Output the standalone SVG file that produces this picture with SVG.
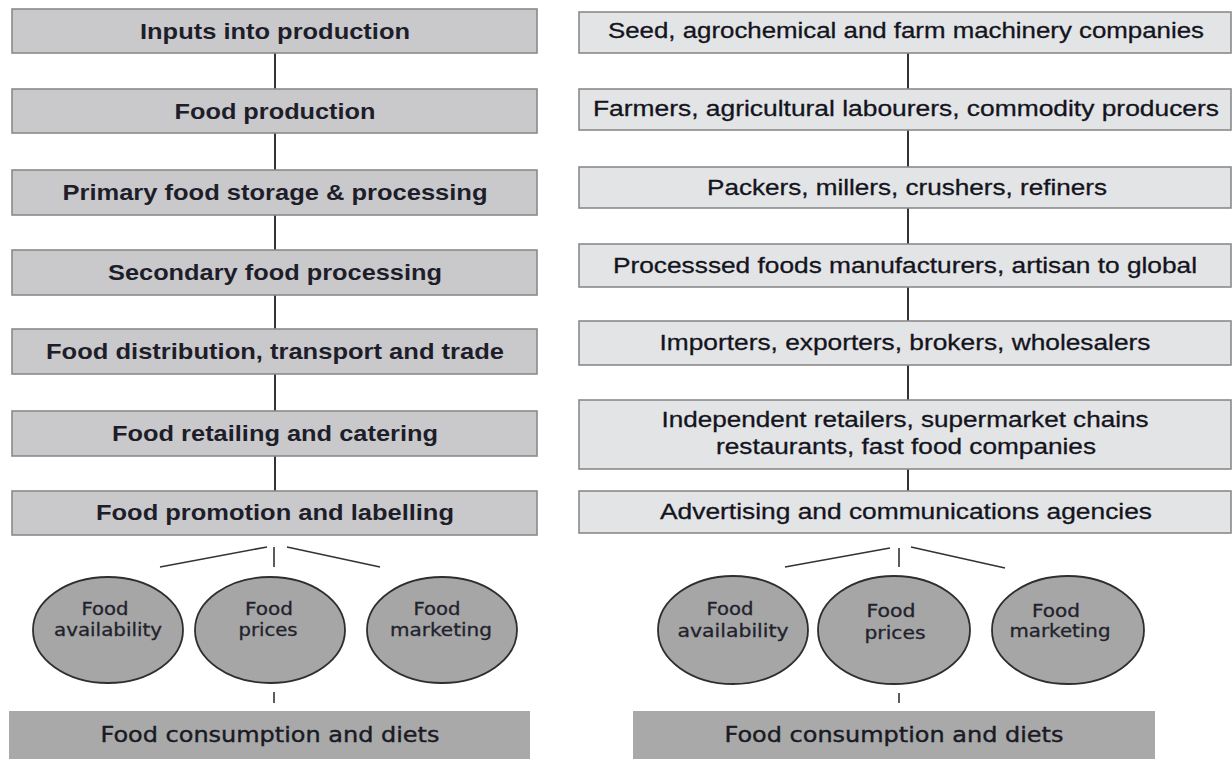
<svg xmlns="http://www.w3.org/2000/svg" width="1232" height="759" viewBox="0 0 1232 759">
<style>
.bl{fill:#c9c9cb;stroke:#8a8a8c;stroke-width:1.6}
.br{fill:#e3e4e6;stroke:#8a8a8c;stroke-width:1.6}
.bb{fill:#a9a9a9}
.el{fill:#a6a6a6;stroke:#2e2e2e;stroke-width:1.8}
.tl{font-family:"Liberation Sans",Arial,sans-serif;font-size:22px;font-weight:bold;fill:#1e1e2a;text-anchor:middle}
.tr{font-family:"Liberation Sans",Arial,sans-serif;font-size:22px;fill:#141420;stroke:#141420;stroke-width:0.3;text-anchor:middle}
.tc{font-family:"DejaVu Sans",sans-serif;font-size:17px;fill:#22222c;stroke:#22222c;stroke-width:0.3;text-anchor:middle}
.tb{font-family:"DejaVu Sans",sans-serif;font-size:21px;fill:#1a1a24;stroke:#1a1a24;stroke-width:0.4;text-anchor:middle}
.cn{stroke:#333;stroke-width:2;fill:none}
.fn{stroke:#333;stroke-width:1.6;fill:none}
</style>
<rect width="1232" height="759" fill="#ffffff"/>
<g id="connectors">
<path class="cn" d="M275 53V89M275 133V170M275 215V250M275 295V329M275 374V411M275 456V491"/>
<path class="cn" d="M908 53V89M908 130V167M908 208V244M908 287V321M908 365V400M908 469V491"/>
<path class="fn" d="M267 547L160 567M274 547V567M287 547L380 567M274 692V703"/>
<path class="fn" d="M890 548L785 567M899 548V567M911 547L1005 568M899 693V703"/>
</g>
<g id="left-1"><rect class="bl" x="12" y="9" width="525" height="44"/><text class="tl" x="275" y="39" textLength="270" lengthAdjust="spacingAndGlyphs">Inputs into production</text></g>
<g id="left-2"><rect class="bl" x="12" y="89" width="525" height="44"/><text class="tl" x="275" y="119" textLength="201" lengthAdjust="spacingAndGlyphs">Food production</text></g>
<g id="left-3"><rect class="bl" x="12" y="170" width="525" height="45"/><text class="tl" x="275" y="200" textLength="425" lengthAdjust="spacingAndGlyphs">Primary food storage &amp; processing</text></g>
<g id="left-4"><rect class="bl" x="12" y="250" width="525" height="45"/><text class="tl" x="275" y="280" textLength="334" lengthAdjust="spacingAndGlyphs">Secondary food processing</text></g>
<g id="left-5"><rect class="bl" x="12" y="329" width="525" height="45"/><text class="tl" x="275" y="359" textLength="458" lengthAdjust="spacingAndGlyphs">Food distribution, transport and trade</text></g>
<g id="left-6"><rect class="bl" x="12" y="411" width="525" height="45"/><text class="tl" x="275" y="441" textLength="326" lengthAdjust="spacingAndGlyphs">Food retailing and catering</text></g>
<g id="left-7"><rect class="bl" x="12" y="491" width="525" height="44"/><text class="tl" x="275" y="520" textLength="358" lengthAdjust="spacingAndGlyphs">Food promotion and labelling</text></g>
<g id="left-availability"><ellipse class="el" cx="108" cy="630" rx="75" ry="53"/><text class="tc" x="105" y="615" textLength="47" lengthAdjust="spacingAndGlyphs">Food</text><text class="tc" x="108" y="636" textLength="108" lengthAdjust="spacingAndGlyphs">availability</text></g>
<g id="left-prices"><ellipse class="el" cx="270" cy="630" rx="75" ry="53"/><text class="tc" x="269" y="615" textLength="48" lengthAdjust="spacingAndGlyphs">Food</text><text class="tc" x="268" y="636" textLength="59" lengthAdjust="spacingAndGlyphs">prices</text></g>
<g id="left-marketing"><ellipse class="el" cx="442" cy="630" rx="75" ry="53"/><text class="tc" x="437" y="615" textLength="47" lengthAdjust="spacingAndGlyphs">Food</text><text class="tc" x="441" y="636" textLength="102" lengthAdjust="spacingAndGlyphs">marketing</text></g>
<g id="left-consumption"><rect class="bb" x="9" y="711" width="521" height="48"/><text class="tb" x="270" y="742" textLength="339" lengthAdjust="spacingAndGlyphs">Food consumption and diets</text></g>
<g id="right-1"><rect class="br" x="579" y="12" width="652" height="41"/><text class="tr" x="906" y="38" textLength="596" lengthAdjust="spacingAndGlyphs">Seed, agrochemical and farm machinery companies</text></g>
<g id="right-2"><rect class="br" x="579" y="89" width="652" height="41"/><text class="tr" x="906" y="116" textLength="626" lengthAdjust="spacingAndGlyphs">Farmers, agricultural labourers, commodity producers</text></g>
<g id="right-3"><rect class="br" x="579" y="167" width="652" height="41"/><text class="tr" x="907" y="195" textLength="400" lengthAdjust="spacingAndGlyphs">Packers, millers, crushers, refiners</text></g>
<g id="right-4"><rect class="br" x="579" y="244" width="652" height="43"/><text class="tr" x="905" y="273" textLength="584" lengthAdjust="spacingAndGlyphs">Processsed foods manufacturers, artisan to global</text></g>
<g id="right-5"><rect class="br" x="579" y="321" width="652" height="44"/><text class="tr" x="905" y="350" textLength="491" lengthAdjust="spacingAndGlyphs">Importers, exporters, brokers, wholesalers</text></g>
<g id="right-6"><rect class="br" x="579" y="400" width="652" height="69"/><text class="tr" x="905" y="427" textLength="487" lengthAdjust="spacingAndGlyphs">Independent retailers, supermarket chains</text><text class="tr" x="906" y="454" textLength="380" lengthAdjust="spacingAndGlyphs">restaurants, fast food companies</text></g>
<g id="right-7"><rect class="br" x="579" y="491" width="652" height="42"/><text class="tr" x="906" y="519" textLength="492" lengthAdjust="spacingAndGlyphs">Advertising and communications agencies</text></g>
<g id="right-availability"><ellipse class="el" cx="733" cy="630" rx="75" ry="54"/><text class="tc" x="730" y="615" textLength="47" lengthAdjust="spacingAndGlyphs">Food</text><text class="tc" x="733" y="637" textLength="111" lengthAdjust="spacingAndGlyphs">availability</text></g>
<g id="right-prices"><ellipse class="el" cx="894" cy="630" rx="76" ry="54"/><text class="tc" x="891" y="617" textLength="49" lengthAdjust="spacingAndGlyphs">Food</text><text class="tc" x="895" y="639" textLength="61" lengthAdjust="spacingAndGlyphs">prices</text></g>
<g id="right-marketing"><ellipse class="el" cx="1068" cy="630" rx="76" ry="54"/><text class="tc" x="1056" y="617" textLength="48" lengthAdjust="spacingAndGlyphs">Food</text><text class="tc" x="1060" y="637" textLength="101" lengthAdjust="spacingAndGlyphs">marketing</text></g>
<g id="right-consumption"><rect class="bb" x="633" y="711" width="522" height="48"/><text class="tb" x="894" y="742" textLength="339" lengthAdjust="spacingAndGlyphs">Food consumption and diets</text></g>
</svg>
